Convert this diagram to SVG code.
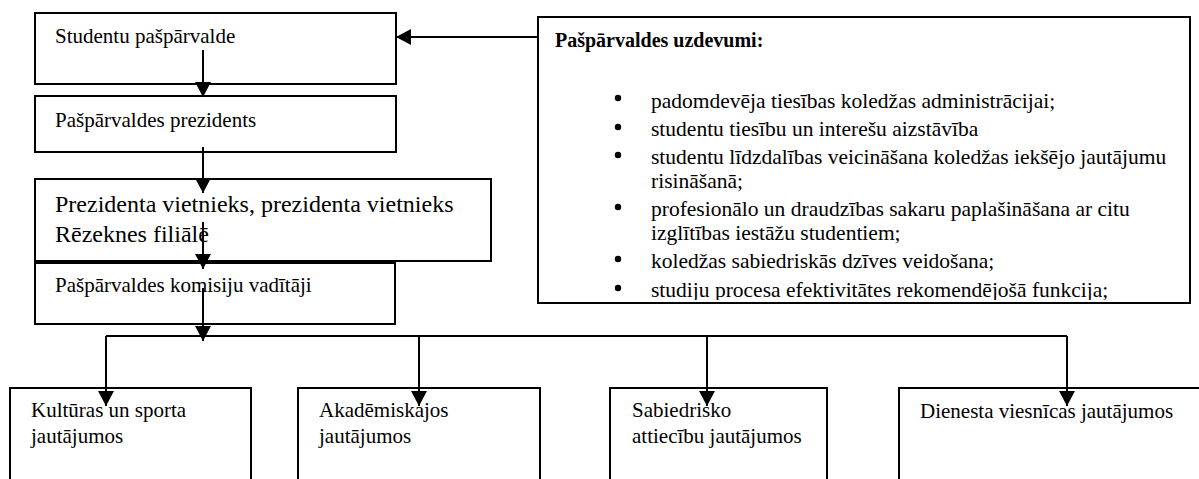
<svg xmlns="http://www.w3.org/2000/svg" width="1199" height="479" viewBox="0 0 1199 479">
<style>
.box{fill:#fff;stroke:#000;stroke-width:2}
.t{font-family:"Liberation Serif","Times New Roman",serif;font-size:21px;fill:#000}
.tr{font-family:"Liberation Serif","Times New Roman",serif;font-size:21.5px;fill:#000}
.tl{font-family:"Liberation Serif","Times New Roman",serif;font-size:24px;fill:#000}
.tb{font-family:"Liberation Serif","Times New Roman",serif;font-size:20px;font-weight:bold;fill:#000}
.c{fill:none;stroke:#000;stroke-width:2}
</style>
<defs>
<marker id="ah" markerUnits="userSpaceOnUse" markerWidth="16" markerHeight="16" refX="15" refY="8" orient="auto">
<path d="M0,0 L15,8 L0,16 Z" fill="#000"/>
</marker>
<clipPath id="rc"><rect x="540" y="19" width="648" height="281"/></clipPath>
</defs>
<rect width="1199" height="479" fill="#fff"/>
<g id="n1"><rect class="box" x="35" y="13" width="361" height="71"/><text class="t" x="55" y="43">Studentu pašpārvalde</text></g>
<g id="n2"><rect class="box" x="35" y="96" width="361" height="56"/><text class="t" x="55" y="127">Pašpārvaldes prezidents</text></g>
<g id="n3"><rect class="box" x="35" y="179" width="456" height="82"/><text class="tl" x="55" y="212">Prezidenta vietnieks, prezidenta vietnieks</text><text class="tl" x="55" y="242">Rēzeknes filiālē</text></g>
<g id="n4"><rect class="box" x="35" y="263" width="360" height="61"/><text class="t" x="55" y="292">Pašpārvaldes komisiju vadītāji</text></g>
<g id="n5"><rect class="box" x="538" y="17" width="652" height="286"/>
<g clip-path="url(#rc)">
<text class="tb" x="555" y="47">Pašpārvaldes uzdevumi:</text>
<circle cx="618" cy="98" r="3.2"/><text class="tr" x="651" y="108">padomdevēja tiesības koledžas administrācijai;</text>
<circle cx="618" cy="127" r="3.2"/><text class="tr" x="651" y="136">studentu tiesību un interešu aizstāvība</text>
<circle cx="618" cy="155" r="3.2"/><text class="tr" x="651" y="164">studentu līdzdalības veicināšana koledžas iekšējo jautājumu</text>
<text class="tr" x="651" y="188">risināšanā;</text>
<circle cx="618" cy="207" r="3.2"/><text class="tr" x="651" y="216">profesionālo un draudzības sakaru paplašināšana ar citu</text>
<text class="tr" x="651" y="240">izglītības iestāžu studentiem;</text>
<circle cx="618" cy="259" r="3.2"/><text class="tr" x="651" y="268">koledžas sabiedriskās dzīves veidošana;</text>
<circle cx="618" cy="288" r="3.2"/><text class="tr" x="651" y="297">studiju procesa efektivitātes rekomendējošā funkcija;</text>
</g>
</g>
<g id="n6"><rect class="box" x="10" y="388" width="241" height="100"/><text class="t" x="31" y="417">Kultūras un sporta</text><text class="t" x="31" y="443">jautājumos</text></g>
<g id="n7"><rect class="box" x="298" y="388" width="242" height="100"/><text class="t" x="319" y="417">Akadēmiskajos</text><text class="t" x="319" y="443">jautājumos</text></g>
<g id="n8"><rect class="box" x="610" y="388" width="217" height="100"/><text class="t" x="632" y="417">Sabiedrisko</text><text class="t" x="632" y="443">attiecību jautājumos</text></g>
<g id="n9"><rect class="box" x="899" y="388" width="310" height="100"/><text class="t" x="920" y="418">Dienesta viesnīcas jautājumos</text></g>
<g id="connectors">
<line class="c" x1="538" y1="37" x2="396" y2="37" marker-end="url(#ah)"/>
<line class="c" x1="203" y1="50" x2="203" y2="97" marker-end="url(#ah)"/>
<line class="c" x1="203" y1="147" x2="203" y2="193" marker-end="url(#ah)"/>
<line class="c" x1="203" y1="222" x2="203" y2="269" marker-end="url(#ah)"/>
<line class="c" x1="203" y1="288" x2="203" y2="341" marker-end="url(#ah)"/>
<line class="c" x1="106" y1="336" x2="1067" y2="336"/>
<line class="c" x1="106" y1="336" x2="106" y2="406" marker-end="url(#ah)"/>
<line class="c" x1="419" y1="336" x2="419" y2="406" marker-end="url(#ah)"/>
<line class="c" x1="707" y1="336" x2="707" y2="406" marker-end="url(#ah)"/>
<line class="c" x1="1067" y1="336" x2="1067" y2="406" marker-end="url(#ah)"/>
</g>
</svg>
